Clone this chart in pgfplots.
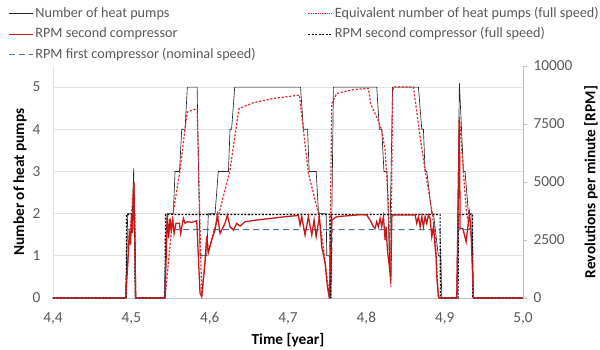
\documentclass[border=0pt]{standalone}
\usepackage{fontspec}
\setmainfont{Carlito}
\usepackage{pgfplots}
\pgfplotsset{compat=1.18}
\definecolor{txt}{HTML}{595959}
\definecolor{gridc}{HTML}{E3E3E3}
\definecolor{axc}{HTML}{BFBFBF}
\definecolor{redsolid}{HTML}{C81818}
\definecolor{reddot}{HTML}{E82828}
\definecolor{blu}{HTML}{4C72AE}
\begin{document}
\begin{tikzpicture}[x=1pt,y=1pt,font=\fontsize{15.3}{18}\selectfont]
\useasboundingbox (-53,-51) rectangle (547,298);
\pgfplotsset{
  common/.style={scale only axis, width=470pt, height=232pt, xmin=4.4, xmax=5.0,
    /pgf/number format/assume math mode=true,
    tick label style={text=txt, font=\fontsize{15.3}{18}\selectfont},
    label style={text=txt, font=\fontsize{15.3}{18}\selectfont},
  },
}
\begin{axis}[common,
  ymin=0, ymax=5.5,
  axis x line*=bottom, axis y line*=left,
  x axis line style={draw=axc, line width=0.8pt},
  y axis line style={draw=gridc, line width=0.8pt},
  xtick={4.4,4.5,4.6,4.7,4.8,4.9,5.0},
  ytick={0,1,2,3,4,5},
  major tick length=0pt,
  ymajorgrids, grid style={draw=gridc, line width=0.7pt},
  xticklabel style={/pgf/number format/use comma, /pgf/number format/fixed, /pgf/number format/fixed zerofill, /pgf/number format/precision=1, yshift=-11pt},
  yticklabel style={xshift=-9pt},
  xlabel={\textbf{Time [year]}}, ylabel={\textbf{Number of heat pumps}},
  every axis x label/.style={at={(axis description cs:0.5,-0.181)}, anchor=center},
  every axis y label/.style={at={(axis description cs:-0.0702,0.5)}, rotate=90, anchor=center},
]
% Number of heat pumps
\addplot[draw=black!85, line width=0.65pt] coordinates {
(4.40,0)(4.4928,0)(4.4954,2)(4.5013,2)(4.503,3.07)(4.5056,0)
(4.542,0)(4.5455,2)(4.5536,2)(4.5558,3)(4.5615,3)(4.5643,4)(4.5686,4)(4.5715,5)(4.584,5)(4.5877,1)(4.5963,1)(4.5983,2)(4.6069,2)(4.6110,3)(4.624,3)(4.626,4)(4.628,4)(4.632,5)
(4.716,5)(4.7197,4)(4.725,4)(4.727,3)(4.736,3)(4.739,2)(4.7487,2)(4.7495,1)(4.753,1)(4.7546,0)(4.758,5)
(4.8133,5)(4.8167,4)(4.8197,4)(4.8225,3)(4.8265,3)(4.8295,0.8)(4.8335,5)
(4.8665,5)(4.8708,4)(4.8729,4)(4.875,3)(4.8772,3)(4.8836,2)(4.8857,2)(4.892,1)(4.895,1)(4.8963,0)
(4.9155,0)(4.9188,5.1)(4.924,3)(4.926,3)(4.9304,2)(4.9347,2)(4.9367,0)(5.0,0)
};
% Equivalent number of heat pumps (full speed)
\addplot[draw=reddot, dash pattern=on 2.2pt off 1.6pt, line width=1.2pt] coordinates {
(4.40,0)(4.4928,0)(4.4955,0.9)(4.4985,1.6)(4.5003,2.0)(4.5033,2.75)(4.5056,0)
(4.543,0)(4.5536,2.05)(4.562,3.0)(4.5686,4.02)(4.5715,4.41)(4.584,4.49)(4.5899,0.05)
(4.5941,0.85)(4.5963,1.45)(4.5983,1.1)(4.6026,1.4)(4.613,2.08)(4.626,3.03)(4.632,3.82)(4.6375,4.49)(4.6558,4.63)(4.6813,4.73)(4.7146,4.81)
(4.7197,3.98)(4.726,2.96)(4.7388,2.01)(4.745,1.22)(4.7529,0)(4.7559,4.61)(4.7623,4.85)(4.7835,4.94)(4.8027,4.97)
(4.8055,4.6)(4.813,4.3)(4.8197,3.98)(4.824,3.5)(4.8282,2.24)(4.8312,0.27)(4.8335,4.9)(4.8346,5.0)(4.8601,5.0)
(4.8687,3.82)(4.875,3.03)(4.8836,2.08)(4.888,1.45)(4.892,0)
(4.9155,0)(4.9188,4.3)(4.923,3.2)(4.928,2.0)(4.9345,1.4)(4.9367,0)(5.0,0)
};
\end{axis}
\begin{axis}[common,
  ymin=0, ymax=10000,
  axis x line=none, axis y line*=right,
  y axis line style={draw=axc, line width=0.8pt},
  ytick={0,2500,5000,7500,10000},
  yticklabel style={/pgf/number format/1000 sep={}, xshift=3pt},
  scaled y ticks=false,
  tick align=outside, major tick length=4pt,
  ytick style={draw=axc, line width=0.8pt},
  ylabel={\textbf{Revolutions per minute [RPM]}},
  every axis y label/.style={at={(axis description cs:1.1447,0.5)}, rotate=90, anchor=center},
  legend columns=2,
  legend cell align=left,
  legend style={draw=none, fill=none, inner sep=0pt, outer sep=0pt,
    at={(axis description cs:-0.0957,1.266)}, anchor=north west,
    font=\fontsize{14.2}{17}\selectfont,
    nodes={inner sep=2pt, text height=11pt, text depth=4pt},
    row sep=1.5pt,
    /tikz/every even column/.append style={column sep=50pt}},
  legend image code/.code={\draw[mark repeat=2,mark phase=2] plot coordinates {(0pt,0pt)(12pt,0pt)(24pt,0pt)};},
]
\addlegendimage{draw=black!85, line width=0.65pt}
\addlegendentry{\textcolor{txt}{Number of heat pumps}}
\addlegendimage{draw=reddot, densely dotted, line width=1.3pt}
\addlegendentry{\textcolor{txt}{Equivalent number of heat pumps (full speed)}}
\addlegendimage{draw=redsolid, line width=1.4pt}
\addlegendentry{\textcolor{txt}{RPM second compressor}}
\addlegendimage{draw=black, dash pattern=on 2pt off 1.5pt, line width=1.1pt}
\addlegendentry{\textcolor{txt}{RPM second compressor (full speed)}}
\addlegendimage{draw=blu, dash pattern=on 6pt off 4pt, line width=1pt}
\addlegendentry{\textcolor{txt}{RPM first compressor (nominal speed)}}
% RPM first compressor (nominal speed)
\addplot[draw=blu, dash pattern=on 6pt off 4pt, line width=1pt, forget plot] coordinates {
(4.40,0)(4.4925,0)(4.4955,2950)(4.5045,2950)(4.5056,0)(4.542,0)(4.545,2950)(4.7535,2950)(4.7546,0)(4.7565,2950)(4.894,2950)(4.8963,0)(4.9165,0)(4.9176,2950)(4.9355,2950)(4.9367,0)(5.0,0)
};
% RPM second compressor (full speed)
\addplot[draw=black, dash pattern=on 2pt off 1.5pt, line width=1.1pt, forget plot] coordinates {
(4.40,0)(4.4935,0)(4.4938,3600)(4.5045,3600)(4.5048,0)(4.543,0)(4.5435,3600)(4.7535,3600)(4.7546,0)(4.7558,3600)(4.8942,3600)(4.8945,0)(4.9172,0)(4.9176,3600)(4.9355,3600)(4.9358,0)(5.0,0)
};
% RPM second compressor
\addplot[draw=redsolid, line width=1.3pt, forget plot] coordinates {
(4.40,0)(4.4928,0)(4.4955,1500)(4.4975,2900)(4.499,2300)(4.5003,3600)(4.5015,2800)(4.5033,5000)(4.5056,0)
(4.543,0)(4.546,3578)(4.5477,2572)(4.5494,3434)(4.551,2859)(4.5528,3434)(4.5545,2787)(4.557,3218)(4.5613,3218)(4.563,2787)(4.5664,3434)(4.5686,3218)(4.5715,3290)(4.5771,3260)(4.5835,3330)(4.5877,200)(4.5899,60)
(4.5941,1566)(4.5963,2650)(4.5983,1950)(4.6026,2500)(4.6069,2931)(4.6098,3578)(4.6133,2787)(4.6175,3074)(4.6196,3218)(4.6226,3578)(4.626,3074)(4.6303,2931)(4.6346,3218)(4.6388,3100)(4.6452,3290)(4.66,3360)(4.69,3480)(4.7133,3560)
(4.7154,3147)(4.7176,3505)(4.7218,2716)(4.726,3505)(4.7304,2716)(4.7333,3362)(4.7359,2643)(4.7401,3505)(4.7431,2211)(4.7474,1495)(4.7503,487)(4.7528,0)(4.7559,3362)(4.7623,3505)(4.792,3590)(4.8006,3578)
(4.8048,3362)(4.809,3074)(4.8112,3002)(4.8133,3290)(4.8154,3074)(4.8176,3434)(4.8197,3074)(4.8218,3506)(4.824,2500)(4.8252,3074)(4.8269,2069)(4.8295,1350)(4.8312,700)(4.8325,3506)(4.8346,3578)
(4.8623,3578)(4.8644,3218)(4.8665,3506)(4.8687,3074)(4.8708,3506)(4.8729,3074)(4.875,3506)(4.8772,3218)(4.8793,3578)(4.8814,3434)(4.8836,2643)(4.8857,3074)(4.8878,2211)(4.8891,1782)(4.8899,919)(4.8921,57)(4.8942,0)
(4.9155,0)(4.9188,7670)(4.9197,3000)(4.9232,3000)(4.9274,2428)(4.9316,3650)(4.9335,3000)(4.9367,0)(5.0,0)
};
\end{axis}
\end{tikzpicture}
\end{document}
